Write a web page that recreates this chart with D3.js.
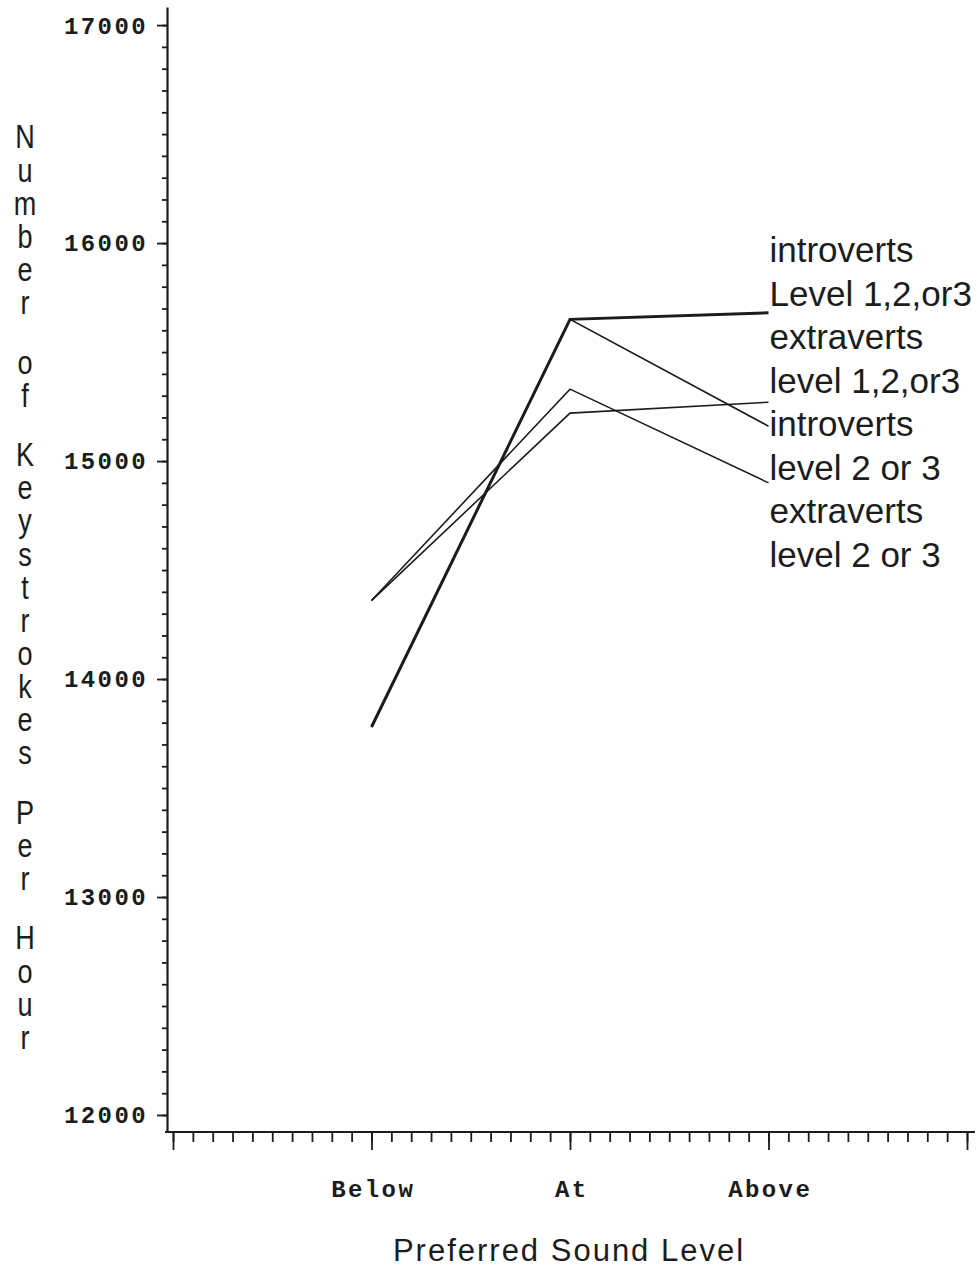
<!DOCTYPE html>
<html>
<head>
<meta charset="utf-8">
<script src="https://cdn.jsdelivr.net/npm/d3@7"></script>
<style>
  html, body { margin: 0; padding: 0; background: #fff; }
  svg { display: block; }
</style>
</head>
<body>
<svg id="chart" width="980" height="1279"></svg>
<script>
// Preferred sound level categories (x) and keystrokes per hour (y)
const categories = ["Below", "At", "Above"];
const introvertsAll = [13780, 15650, 15680];
const extravertsAll = [14360, 15220, 15270];
const introverts23 = [13780, 15650, 15160];
const extraverts23 = [14360, 15330, 14900];
const seriesLabels = [
  ["introverts", "Level 1,2,or3"],
  ["extraverts", "level 1,2,or3"],
  ["introverts", "level 2 or 3"],
  ["extraverts", "level 2 or 3"]
];
const yMajorTicks = [12000, 13000, 14000, 15000, 16000, 17000];
const yTitle = "Number of Keystrokes Per Hour";
const xTitle = "Preferred Sound Level";

const series = [
  { values: introvertsAll, thick: true },
  { values: extravertsAll, thick: false },
  { values: introverts23, thick: false },
  { values: extraverts23, thick: false }
];

const svg = d3.select("#chart");
const ink = "#1c1c1c";

// scales: x spans 0..4 with the three categories at 1, 2, 3
const x = d3.scaleLinear().domain([0, 4]).range([173, 967]);
const y = d3.scaleLinear().domain([11922, 17083]).range([1132, 7]);
const yAxisX = 167;
const xAxisY = 1132;

const monoFont = "'Liberation Mono', 'DejaVu Sans Mono', monospace";
const sansFont = "'Liberation Sans', Arial, sans-serif";

// ---- y axis: minor ticks every 100, major every 1000 ----
const yMinor = d3.axisLeft(y)
  .tickValues(d3.range(12000, 17001, 100))
  .tickSize(5).tickSizeOuter(0).tickFormat("");
const gyMinor = svg.append("g").attr("transform", `translate(${yAxisX},0)`).call(yMinor);

const yMajor = d3.axisLeft(y)
  .tickValues(yMajorTicks)
  .tickSize(10).tickSizeOuter(0).tickPadding(9)
  .tickFormat(d3.format("d"));
const gyMajor = svg.append("g").attr("transform", `translate(${yAxisX},0)`).call(yMajor);
gyMajor.select(".domain").remove();

[gyMinor, gyMajor].forEach(g => {
  g.selectAll(".domain").attr("stroke", ink).attr("stroke-width", 2.2);
  g.selectAll(".tick line").attr("stroke", ink).attr("stroke-width", 1.8);
});
gyMajor.selectAll(".tick text")
  .attr("fill", ink)
  .attr("font-family", monoFont)
  .attr("font-weight", "bold")
  .attr("font-size", 24)
  .attr("letter-spacing", 2.4)
  .attr("dy", "0.33em");

// ---- x axis: minor ticks every 0.1, major at integers ----
const xMinor = d3.axisBottom(x)
  .tickValues(d3.range(0, 41).map(i => i / 10))
  .tickSize(10).tickSizeOuter(0).tickFormat("");
const gxMinor = svg.append("g").attr("transform", `translate(0,${xAxisY})`).call(xMinor);
gxMinor.select(".domain").remove();

const xMajor = d3.axisBottom(x)
  .tickValues([0, 1, 2, 3, 4])
  .tickSize(18).tickSizeOuter(0).tickFormat("");
const gxMajor = svg.append("g").attr("transform", `translate(0,${xAxisY})`).call(xMajor);
gxMajor.select(".domain").remove();

[gxMinor, gxMajor].forEach(g => {
  g.selectAll(".tick line").attr("stroke", ink).attr("stroke-width", 1.8);
});

// x axis baseline, running from the y axis to just past the last tick
svg.append("line")
  .attr("x1", yAxisX - 2).attr("x2", x(4.04))
  .attr("y1", xAxisY).attr("y2", xAxisY)
  .attr("stroke", ink).attr("stroke-width", 2.2);

// category labels
const xCat = d3.axisBottom(x)
  .tickValues([1, 2, 3])
  .tickSize(0).tickPadding(48)
  .tickFormat(d => categories[d - 1]);
const gxCat = svg.append("g").attr("transform", `translate(0,${xAxisY})`).call(xCat);
gxCat.select(".domain").remove();
gxCat.selectAll(".tick text")
  .attr("fill", ink)
  .attr("font-family", monoFont)
  .attr("font-weight", "bold")
  .attr("font-size", 24)
  .attr("letter-spacing", 2.4)
  .attr("dx", 1.2);

// ---- axis titles ----
svg.append("text")
  .attr("x", x(2) - 1)
  .attr("y", 1261)
  .attr("text-anchor", "middle")
  .attr("font-family", sansFont)
  .attr("font-size", 31)
  .attr("letter-spacing", 2)
  .attr("fill", ink)
  .text(xTitle);

// vertical title: one letter per line, a blank step between words
const titleChars = [];
let pos = 0;
yTitle.split(" ").forEach((word, wi) => {
  if (wi > 0) pos += 1.8;
  word.split("").forEach((ch, ci) => {
    if (ci > 0) pos += 1;
    titleChars.push({ ch, pos });
  });
});
const titleY = d => 137 + d.pos * 33.1;
svg.append("g").selectAll("text")
  .data(titleChars)
  .join("text")
  .attr("x", 25)
  .attr("y", titleY)
  .attr("text-anchor", "middle")
  .attr("dominant-baseline", "central")
  .attr("font-family", sansFont)
  .attr("font-size", 33)
  .attr("fill", ink)
  .attr("transform", d => `translate(25,${titleY(d)}) scale(0.82,1) translate(-25,${-titleY(d)})`)
  .text(d => d.ch);

// ---- series lines ----
const line = d3.line()
  .x((d, i) => x(i + 1))
  .y(d => y(d));

svg.append("g").selectAll("path")
  .data(series)
  .join("path")
  .attr("d", d => line(d.values))
  .attr("fill", "none")
  .attr("stroke", ink)
  .attr("stroke-width", d => d.thick ? 3 : 1.6)
  .attr("stroke-linejoin", "miter");

// ---- series labels stacked beside the line ends ----
const labelLines = seriesLabels.flat();
svg.append("g").selectAll("text")
  .data(labelLines)
  .join("text")
  .attr("x", x(3) + 1)
  .attr("y", (d, i) => 262 + i * 43.5)
  .attr("font-family", sansFont)
  .attr("font-size", 35)
  .attr("fill", ink)
  .text(d => d);
</script>
</body>
</html>
